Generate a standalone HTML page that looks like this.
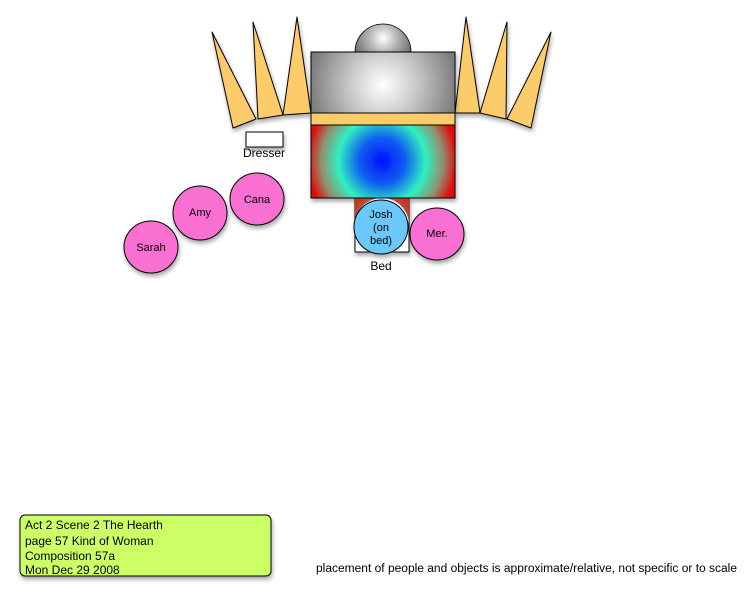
<!DOCTYPE html>
<html><head><meta charset="utf-8"><style>
body{margin:0;background:#fff;width:753px;height:600px;overflow:hidden}
svg{display:block}
text{font-family:"Liberation Sans",sans-serif;font-size:11px;fill:#000}
</style></head><body>
<svg width="753" height="600" viewBox="0 0 753 600">
<defs>
<radialGradient id="fire" gradientUnits="userSpaceOnUse" cx="382" cy="161" r="78">
<stop offset="0" stop-color="#0010ff"/>
<stop offset="0.3" stop-color="#1060f0"/>
<stop offset="0.56" stop-color="#30f0c0"/>
<stop offset="0.78" stop-color="#909070"/>
<stop offset="0.95" stop-color="#e01010"/>
</radialGradient>
<radialGradient id="gray" gradientUnits="userSpaceOnUse" cx="383" cy="85" r="75">
<stop offset="0" stop-color="#ffffff"/>
<stop offset="0.45" stop-color="#c8c8c8"/>
<stop offset="1" stop-color="#7a7a7a"/>
</radialGradient>
<radialGradient id="dome" gradientUnits="userSpaceOnUse" cx="383" cy="38" r="30">
<stop offset="0" stop-color="#ffffff"/>
<stop offset="0.5" stop-color="#b0b0b0"/>
<stop offset="1" stop-color="#707070"/>
</radialGradient>
<radialGradient id="bedg" gradientUnits="userSpaceOnUse" cx="381" cy="220" r="30">
<stop offset="0" stop-color="#30e0c0"/>
<stop offset="1" stop-color="#d03020"/>
</radialGradient>
<filter id="sh" x="-20%" y="-20%" width="150%" height="150%"><feDropShadow dx="1" dy="3" stdDeviation="2" flood-opacity="0.35"/></filter>
</defs>
<g fill="#fccb6b" stroke="#000" stroke-width="1" stroke-linejoin="round" filter="url(#sh)">
<polygon points="212,32 233,128 256,119"/>
<polygon points="253,22 258,119 283,115"/>
<polygon points="297,17 283,115 311,113"/>
<polygon points="466,17 455,113 480,113"/>
<polygon points="507,22 480,113 506,119"/>
<polygon points="551,32 507,119 531,128"/>
</g>
<path d="M355,52 A28,28 0 0 1 411,52 Z" fill="url(#dome)" stroke="#000" stroke-width="0.8"/>
<g filter="url(#sh)">
<rect x="355" y="198" width="54" height="54" fill="#fff" stroke="#000" stroke-width="1"/>
<path d="M355,198 L409,198 L409,225 A27,27 0 0 0 355,225 Z" fill="url(#bedg)"/>
<rect x="311" y="52" width="144" height="61" fill="url(#gray)" stroke="#000" stroke-width="1"/>
<rect x="311" y="113" width="144" height="12" fill="#fccb6b" stroke="#000" stroke-width="1"/>
<rect x="311" y="125" width="144" height="73" fill="url(#fire)" stroke="#000" stroke-width="1"/>
<rect x="246" y="132" width="37" height="15" fill="#fff" stroke="#000" stroke-width="1"/>
<ellipse cx="381" cy="227" rx="27" ry="27" fill="#6cc8fa" stroke="#000" stroke-width="1"/>
<ellipse cx="437" cy="234" rx="27" ry="26" fill="#f970d2" stroke="#000" stroke-width="1"/>
<ellipse cx="257" cy="199" rx="27" ry="26" fill="#f970d2" stroke="#000" stroke-width="1"/>
<ellipse cx="200" cy="213" rx="27" ry="27" fill="#f970d2" stroke="#000" stroke-width="1"/>
<ellipse cx="151" cy="247" rx="27" ry="26" fill="#f970d2" stroke="#000" stroke-width="1"/>
<rect x="20" y="515" width="251" height="61" rx="5" fill="#ccff66" stroke="#000" stroke-width="1"/>
</g>
<text x="264" y="157" text-anchor="middle" style="font-size:12px">Dresser</text>
<text x="381" y="270" text-anchor="middle" style="font-size:12px">Bed</text>
<text x="381" y="218" text-anchor="middle" font-size="10">Josh</text>
<text x="381" y="231" text-anchor="middle" font-size="10">(on</text>
<text x="381" y="244" text-anchor="middle" font-size="10">bed)</text>
<text x="437" y="237" text-anchor="middle" font-size="10">Mer.</text>
<text x="257" y="203" text-anchor="middle" font-size="10">Cana</text>
<text x="200" y="216" text-anchor="middle" font-size="10">Amy</text>
<text x="151" y="251" text-anchor="middle" font-size="10">Sarah</text>
<text x="25" y="529" style="font-size:12px">Act 2 Scene 2 The Hearth</text>
<text x="25" y="545" style="font-size:12px">page 57 Kind of Woman</text>
<text x="25" y="560" style="font-size:12px">Composition 57a</text>
<text x="25" y="574" style="font-size:12px">Mon Dec 29 2008</text>
<text x="316" y="572" style="font-size:11.5px" textLength="421" lengthAdjust="spacingAndGlyphs">placement of people and objects is approximate/relative, not specific or to scale</text>
</svg>
</body></html>
